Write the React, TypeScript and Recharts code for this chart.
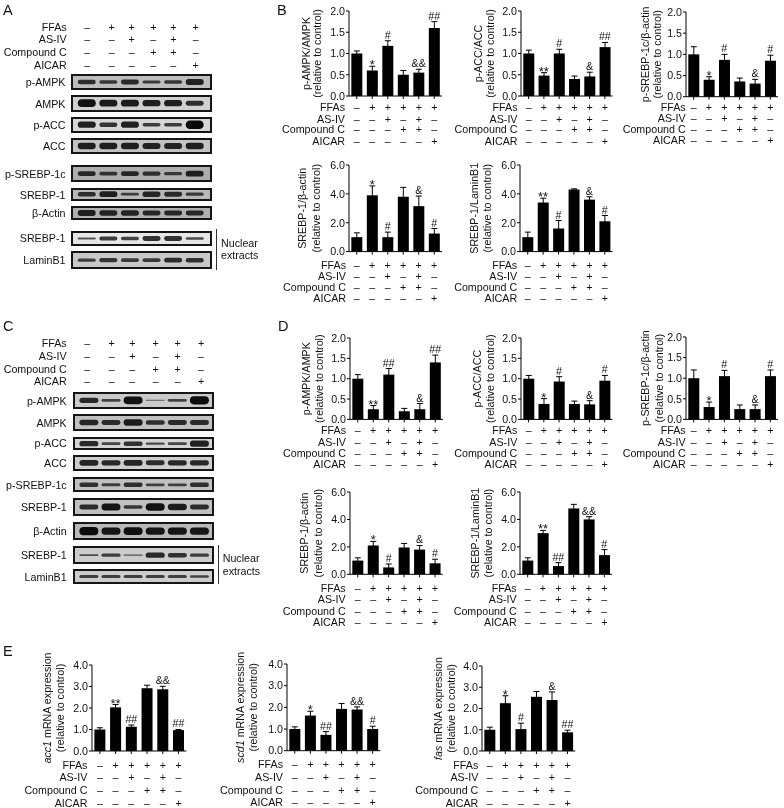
import { Bar, BarChart, ComposedChart, ErrorBar, LabelList, Label, Line, XAxis, YAxis } from "recharts";

const FONT = "'Liberation Sans', Arial, sans-serif";
const INK = "#111";
const FS = 10.7;

const lanes = ["ctrl", "ffa", "asiv", "cc", "asiv+cc", "aicar"];
const rowNames = ["FFAs", "AS-IV", "Compound C", "AICAR"];
const rowSigns = [
  ["–", "+", "+", "+", "+", "+"],
  ["–", "–", "+", "–", "+", "–"],
  ["–", "–", "–", "+", "+", "–"],
  ["–", "–", "–", "–", "–", "+"],
];

const ratioTicks = [0, 0.5, 1, 1.5, 2];
const srebpTicks = [0, 2, 4, 6];
const mrnaTicks = [0, 1, 2, 3, 4];

// bar heights, error bars and significance marks, panel by panel
const b1Values = [1.0, 0.6, 1.18, 0.5, 0.55, 1.6];
const b1Errors = [0.06, 0.1, 0.12, 0.1, 0.08, 0.15];
const b1Sig = ["", "*", "#", "", "&&", "##"];
const b2Values = [1.0, 0.48, 1.0, 0.4, 0.46, 1.15];
const b2Errors = [0.08, 0.07, 0.1, 0.07, 0.1, 0.11];
const b2Sig = ["", "**", "#", "", "&", "##"];
const b3Values = [1.0, 0.4, 0.87, 0.36, 0.31, 0.85];
const b3Errors = [0.18, 0.07, 0.13, 0.08, 0.1, 0.13];
const b3Sig = ["", "*", "#", "", "&", "#"];
const b4Values = [1.0, 3.9, 1.0, 3.8, 3.15, 1.25];
const b4Errors = [0.3, 0.65, 0.35, 0.65, 0.7, 0.35];
const b4Sig = ["", "*", "#", "", "&", "#"];
const b5Values = [1.0, 3.4, 1.6, 4.3, 3.6, 2.1];
const b5Errors = [0.35, 0.3, 0.55, 0.05, 0.2, 0.4];
const b5Sig = ["", "**", "#", "", "&", "#"];

const d1Values = [1.0, 0.25, 1.1, 0.2, 0.25, 1.4];
const d1Errors = [0.1, 0.09, 0.15, 0.07, 0.14, 0.18];
const d1Sig = ["", "**", "##", "", "&", "##"];
const d2Values = [1.0, 0.38, 0.93, 0.38, 0.37, 0.95];
const d2Errors = [0.08, 0.13, 0.12, 0.07, 0.09, 0.13];
const d2Sig = ["", "*", "#", "", "&", "#"];
const d3Values = [1.0, 0.3, 1.05, 0.25, 0.25, 1.05];
const d3Errors = [0.2, 0.12, 0.14, 0.1, 0.1, 0.15];
const d3Sig = ["", "*", "#", "", "&", "#"];
const d4Values = [1.0, 2.1, 0.5, 1.95, 1.8, 0.8];
const d4Errors = [0.2, 0.3, 0.25, 0.3, 0.3, 0.3];
const d4Sig = ["", "*", "#", "", "&", "#"];
const d5Values = [1.0, 3.0, 0.6, 4.8, 4.0, 1.4];
const d5Errors = [0.2, 0.2, 0.25, 0.3, 0.2, 0.4];
const d5Sig = ["", "**", "##", "", "&&", "#"];

const e1Values = [1.0, 2.03, 1.13, 2.92, 2.87, 0.97];
const e1Errors = [0.08, 0.13, 0.08, 0.14, 0.14, 0.03];
const e1Sig = ["", "**", "##", "", "&&", "##"];
const e2Values = [1.0, 1.62, 0.73, 1.93, 1.9, 1.0];
const e2Errors = [0.1, 0.2, 0.15, 0.25, 0.12, 0.13];
const e2Sig = ["", "*", "##", "", "&&", "#"];
const e3Values = [1.0, 2.25, 1.03, 2.55, 2.4, 0.88];
const e3Errors = [0.12, 0.35, 0.28, 0.25, 0.38, 0.1];
const e3Sig = ["", "*", "#", "", "&", "##"];

// blot band strengths, 0 to 1
const aBands = {
  pAmpk: [0.5, 0.4, 0.55, 0.35, 0.4, 0.65],
  ampk: [0.85, 0.75, 0.75, 0.7, 0.7, 0.55],
  pAcc: [0.7, 0.5, 0.7, 0.4, 0.4, 0.95],
  acc: [0.7, 0.7, 0.7, 0.65, 0.65, 0.7],
  pSrebp: [0.55, 0.4, 0.55, 0.45, 0.35, 0.65],
  srebp: [0.5, 0.65, 0.3, 0.6, 0.55, 0.35],
  actin: [0.65, 0.6, 0.6, 0.55, 0.55, 0.55],
  nuclear: [0.2, 0.45, 0.4, 0.55, 0.55, 0.3],
  lamin: [0.35, 0.45, 0.4, 0.4, 0.55, 0.5],
};
const cBands = {
  pAmpk: [0.6, 0.3, 0.85, 0.05, 0.3, 0.9],
  ampk: [0.6, 0.55, 0.7, 0.5, 0.55, 0.55],
  pAcc: [0.6, 0.3, 0.5, 0.25, 0.3, 0.7],
  acc: [0.65, 0.6, 0.65, 0.55, 0.6, 0.6],
  pSrebp: [0.5, 0.35, 0.5, 0.3, 0.3, 0.5],
  srebp: [0.55, 0.8, 0.4, 0.85, 0.7, 0.55],
  actin: [0.9, 0.8, 0.85, 0.8, 0.8, 0.8],
  nuclear: [0.2, 0.35, 0.15, 0.6, 0.5, 0.35],
  lamin: [0.35, 0.35, 0.35, 0.35, 0.35, 0.3],
};

const rowsB1 = [107.3, 118.7, 129.6, 140.7];
const rowsB2 = [264.7, 276, 287, 298.3];
const rowsD1 = [431, 442.3, 453.3, 464.3];
const rowsD2 = [588.3, 599.3, 610.5, 621.7];
const rowsE = [765, 777.7, 790.3, 803];

const panels = [
  { id: "b1", x0: 349, x1: 442, top: 11, zero: 96, labelEnd: 345, rows: rowsB1, title: "p-AMPK/AMPK", tx: [-43, -31.5], ticks: ratioTicks, values: b1Values, errors: b1Errors, sig: b1Sig },
  { id: "b2", x0: 520.5, x1: 612, top: 11, zero: 96, labelEnd: 517, rows: rowsB1, title: "p-ACC/ACC", tx: [-42.4, -30.7], ticks: ratioTicks, values: b2Values, errors: b2Errors, sig: b2Sig },
  { id: "b3", x0: 686, x1: 778, top: 12, zero: 96.7, labelEnd: 685.7, rows: rowsB1, title: "p-SREBP-1c/β-actin", tx: [-40.7, -29], ticks: ratioTicks, values: b3Values, errors: b3Errors, sig: b3Sig },
  { id: "b4", x0: 349, x1: 442, top: 164.7, zero: 251.3, labelEnd: 346, rows: rowsB2, title: "SREBP-1/β-actin", tx: [-46.7, -33], ticks: srebpTicks, values: b4Values, errors: b4Errors, sig: b4Sig },
  { id: "b5", x0: 519.5, x1: 612, top: 164.7, zero: 251.3, labelEnd: 516.7, rows: rowsB2, title: "SREBP-1/LaminB1", tx: [-46, -32.6], ticks: srebpTicks, values: b5Values, errors: b5Errors, sig: b5Sig },
  { id: "d1", x0: 350, x1: 443, top: 338.3, zero: 419.7, labelEnd: 346, rows: rowsD1, title: "p-AMPK/AMPK", tx: [-44, -30.7], ticks: ratioTicks, values: d1Values, errors: d1Errors, sig: d1Sig },
  { id: "d2", x0: 520.7, x1: 612, top: 338.3, zero: 419.7, labelEnd: 517, rows: rowsD1, title: "p-ACC/ACC", tx: [-43.4, -30.7], ticks: ratioTicks, values: d2Values, errors: d2Errors, sig: d2Sig },
  { id: "d3", x0: 686, x1: 778, top: 337.3, zero: 419.7, labelEnd: 685.7, rows: rowsD1, title: "p-SREBP-1c/β-actin", tx: [-40.7, -26.4], ticks: ratioTicks, values: d3Values, errors: d3Errors, sig: d3Sig },
  { id: "d4", x0: 350.3, x1: 443, top: 491.7, zero: 574, labelEnd: 346, rows: rowsD2, title: "SREBP-1/β-actin", tx: [-46, -32], ticks: srebpTicks, values: d4Values, errors: d4Errors, sig: d4Sig },
  { id: "d5", x0: 520, x1: 612, top: 491.7, zero: 574, labelEnd: 516.7, rows: rowsD2, title: "SREBP-1/LaminB1", tx: [-45, -31.7], ticks: srebpTicks, values: d5Values, errors: d5Errors, sig: d5Sig },
  { id: "e1", x0: 92.3, x1: 186.7, top: 665, zero: 751, labelEnd: 87.7, rows: rowsE, italic: "acc1", title: " mRNA expression", tx: [-44.6, -32], ticks: mrnaTicks, values: e1Values, errors: e1Errors, sig: e1Sig },
  { id: "e2", x0: 287.3, x1: 380.7, top: 664.3, zero: 751, labelEnd: 283.3, rows: rowsE, italic: "scd1", title: " mRNA expression", tx: [-47, -34], ticks: mrnaTicks, values: e2Values, errors: e2Errors, sig: e2Sig },
  { id: "e3", x0: 481.7, x1: 575, top: 666, zero: 751, labelEnd: 478, rows: rowsE, italic: "fas", title: " mRNA expression", tx: [-44, -31], ticks: mrnaTicks, values: e3Values, errors: e3Errors, sig: e3Sig },
];

const AXIS_W = 72;
const PAD_TOP = 24;
const PAD_BOTTOM = 64;

function SignsTick(props: any) {
  const { x, index, panel } = props;
  const chartTop = panel.top - PAD_TOP;
  const chartLeft = panel.x0 - AXIS_W;
  return (
    <g fontFamily={FONT} fontSize={FS} fill={INK}>
      {panel.rows.map((rowY: number, r: number) => (
        <g key={r}>
          <text x={x} y={rowY - chartTop + 3.8} textAnchor="middle">
            {rowSigns[r][index]}
          </text>
          {index === 0 && (
            <text x={panel.labelEnd - chartLeft} y={rowY - chartTop + 3.8} textAnchor="end">
              {rowNames[r]}
            </text>
          )}
        </g>
      ))}
    </g>
  );
}

function SigLabel(props: any) {
  const { x, y, value } = props;
  if (!value) return null;
  const star = String(value).includes("*");
  return (
    <text x={x} y={star ? y + 3 : y - 2} textAnchor="middle" fontFamily={FONT} fontSize={star ? 13 : FS} fill={INK}>
      {value}
    </text>
  );
}

function BarPanel({ panel }: { panel: any }) {
  const plotH = panel.zero - panel.top;
  const data = lanes.map((lane, i) => ({
    lane,
    value: panel.values[i],
    err: panel.errors[i],
    cap: panel.values[i] + panel.errors[i],
    sig: panel.sig[i],
  }));
  const midY = PAD_TOP + plotH / 2;
  const yTitle = () => (
    <g fontFamily={FONT} fontSize={FS} fill={INK} textAnchor="middle">
      <text transform={`translate(${AXIS_W + panel.tx[0] + 3.8},${midY}) rotate(-90)`}>
        {panel.italic && <tspan fontStyle="italic">{panel.italic}</tspan>}
        {panel.title}
      </text>
      <text transform={`translate(${AXIS_W + panel.tx[1] + 3.8},${midY}) rotate(-90)`}>(relative to control)</text>
    </g>
  );
  return (
    <div style={{ position: "absolute", left: panel.x0 - AXIS_W, top: panel.top - PAD_TOP }}>
      <ComposedChart
        width={AXIS_W + (panel.x1 - panel.x0) + 2}
        height={PAD_TOP + plotH + PAD_BOTTOM}
        data={data}
        margin={{ top: PAD_TOP, right: 2, bottom: 0, left: 0 }}
        barCategoryGap="15%"
      >
        <XAxis
          dataKey="lane"
          scale="band"
          height={PAD_BOTTOM}
          interval={0}
          tickSize={3}
          tickLine={{ stroke: "#000" }}
          axisLine={{ stroke: "#000" }}
          tick={(p: any) => <SignsTick {...p} panel={panel} />}
        />
        <YAxis
          width={AXIS_W}
          domain={[0, panel.ticks[panel.ticks.length - 1]]}
          ticks={panel.ticks}
          interval={0}
          tickSize={3}
          tickMargin={1}
          tickFormatter={(v: number) => v.toFixed(1)}
          tick={{ fontFamily: FONT, fontSize: FS, fill: INK }}
          tickLine={{ stroke: "#000" }}
          axisLine={{ stroke: "#000" }}
        >
          <Label content={yTitle} />
        </YAxis>
        <Bar dataKey="value" fill="#000" isAnimationActive={false}>
          <ErrorBar dataKey="err" direction="y" width={3} stroke="#000" strokeWidth={1} isAnimationActive={false} />
        </Bar>
        <Line dataKey="cap" stroke="none" dot={false} activeDot={false} isAnimationActive={false}>
          <LabelList dataKey="sig" content={SigLabel} />
        </Line>
      </ComposedChart>
    </div>
  );
}

function BandShape(props: any) {
  const { x, width, level, midY } = props;
  const h = Math.max(level * 9, 1);
  return (
    <rect
      x={x}
      y={midY - h / 2}
      width={width}
      height={h}
      rx={h / 2}
      fill="#050505"
      opacity={0.55 + level * 0.45}
      style={{ filter: "blur(0.6px)" }}
    />
  );
}

function Blot({ x, y, w, h, bands, bg, pad, label, labelEnd }: any) {
  const data = lanes.map((lane, i) => ({ lane, level: bands[i] }));
  const inner = h - 4;
  return (
    <>
      <Txt x={labelEnd} y={y + h / 2} align="end">
        {label}
      </Txt>
      <div
        style={{
          position: "absolute",
          left: x,
          top: y,
          width: w,
          height: h,
          boxSizing: "border-box",
          border: "2px solid #151515",
          background: bg,
        }}
      >
        <BarChart
          width={w - 4}
          height={inner}
          data={data}
          margin={{ top: 0, right: pad[1], bottom: 0, left: pad[0] }}
          barCategoryGap="8%"
        >
          <XAxis dataKey="lane" hide />
          <YAxis hide domain={[0, 1]} />
          <Bar dataKey="level" isAnimationActive={false} shape={(p: any) => <BandShape {...p} midY={inner / 2} />} />
        </BarChart>
      </div>
    </>
  );
}

function Txt({ x, y, align = "start", size = FS, children }: any) {
  const shift = align === "end" ? "-100%" : align === "middle" ? "-50%" : "0";
  return (
    <div
      style={{
        position: "absolute",
        left: x,
        top: y,
        transform: `translate(${shift},-50%)`,
        fontFamily: FONT,
        fontSize: size,
        lineHeight: 1,
        color: INK,
        whiteSpace: "nowrap",
      }}
    >
      {children}
    </div>
  );
}

function SignTable({ cols, rows, labelEnd }: any) {
  return (
    <>
      {rows.map((y: number, r: number) => (
        <div key={r}>
          <Txt x={labelEnd} y={y} align="end">
            {rowNames[r]}
          </Txt>
          {cols.map((cx: number, c: number) => (
            <Txt key={c} x={cx} y={y} align="middle">
              {rowSigns[r][c]}
            </Txt>
          ))}
        </div>
      ))}
    </>
  );
}

const aCols = [87.3, 111.7, 131.7, 153.3, 173.3, 195.7];
const aRows = [26.7, 39.3, 52, 64.7];
const cCols = [87.3, 111.7, 132.3, 155.7, 177.7, 201];
const cRows = [343.3, 355.7, 369, 381.3];

const aBlots = [
  { label: "p-AMPK", y: 74, h: 16, bands: aBands.pAmpk, bg: "#bdbdbd" },
  { label: "AMPK", y: 95.3, h: 16.4, bands: aBands.ampk, bg: "#d0d0d0" },
  { label: "p-ACC", y: 117.3, h: 15.4, bands: aBands.pAcc, bg: "#d6d6d6" },
  { label: "ACC", y: 138.3, h: 16, bands: aBands.acc, bg: "#c2c2c2" },
  { label: "p-SREBP-1c", y: 165, h: 17.3, bands: aBands.pSrebp, bg: "#adadad" },
  { label: "SREBP-1", y: 188.3, h: 12.4, bands: aBands.srebp, bg: "#b8b8b8" },
  { label: "β-Actin", y: 206, h: 14, bands: aBands.actin, bg: "#b0b0b0" },
  { label: "SREBP-1", y: 230.7, h: 15, bands: aBands.nuclear, bg: "#e6e6e6" },
  { label: "LaminB1", y: 251, h: 18.3, bands: aBands.lamin, bg: "#c8c8c8" },
];
const cBlots = [
  { label: "p-AMPK", y: 392.3, h: 16.7, bands: cBands.pAmpk, bg: "#cacaca" },
  { label: "AMPK", y: 414.3, h: 17, bands: cBands.ampk, bg: "#c0c0c0" },
  { label: "p-ACC", y: 436.7, h: 13.3, bands: cBands.pAcc, bg: "#d3d3d3" },
  { label: "ACC", y: 455.3, h: 15.7, bands: cBands.acc, bg: "#cdcdcd" },
  { label: "p-SREBP-1c", y: 476.7, h: 15.6, bands: cBands.pSrebp, bg: "#c0c0c0" },
  { label: "SREBP-1", y: 498, h: 18, bands: cBands.srebp, bg: "#c1c1c1" },
  { label: "β-Actin", y: 521.7, h: 18.3, bands: cBands.actin, bg: "#b9b9b9" },
  { label: "SREBP-1", y: 545.7, h: 18.3, bands: cBands.nuclear, bg: "#cccccc" },
  { label: "LaminB1", y: 569, h: 15, bands: cBands.lamin, bg: "#cccccc" },
];

export default function App() {
  return (
    <div style={{ position: "absolute", left: 0, top: 0, width: 784, height: 808, background: "#fff", overflow: "hidden", filter: "blur(0.3px)" }}>
      <Txt x={3} y={9.5} size={14.5}>A</Txt>
      <Txt x={277} y={9.5} size={14.5}>B</Txt>
      <Txt x={3} y={326} size={14.5}>C</Txt>
      <Txt x={278} y={326} size={14.5}>D</Txt>
      <Txt x={3} y={650.5} size={14.5}>E</Txt>

      <SignTable cols={aCols} rows={aRows} labelEnd={66.7} />
      {aBlots.map((b, i) => (
        <Blot key={i} {...b} x={70.7} w={141.6} pad={[3, 5]} labelEnd={65.5} />
      ))}
      <div style={{ position: "absolute", left: 216, top: 229, width: 1, height: 41, background: "#333" }} />
      <Txt x={221} y={242.7}>Nuclear</Txt>
      <Txt x={221} y={255.3}>extracts</Txt>

      <SignTable cols={cCols} rows={cRows} labelEnd={66.7} />
      {cBlots.map((b, i) => (
        <Blot key={i} {...b} x={72.7} w={141.3} pad={[2.6, 2]} labelEnd={66.7} />
      ))}
      <div style={{ position: "absolute", left: 217.5, top: 545, width: 1, height: 39, background: "#333" }} />
      <Txt x={222.7} y={558}>Nuclear</Txt>
      <Txt x={222.7} y={570.7}>extracts</Txt>

      {panels.map((p) => (
        <BarPanel key={p.id} panel={p} />
      ))}
    </div>
  );
}
